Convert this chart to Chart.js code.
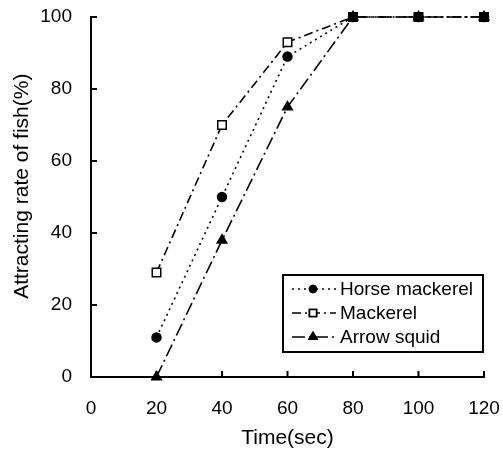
<!DOCTYPE html>
<html>
<head>
<meta charset="utf-8">
<script src="https://cdn.jsdelivr.net/npm/chart.js@4/dist/chart.umd.min.js"></script>
<style>
  html, body { margin: 0; padding: 0; background: #fff; }
  #wrap { width: 503px; height: 451px; }
</style>
</head>
<body>
<div id="wrap"><canvas id="myChart"></canvas></div>
<script>
// data
const times = [20, 40, 60, 80, 100, 120];
const horseMackerel = [11, 50, 89, 100, 100, 100];
const mackerel = [29, 70, 93, 100, 100, 100];
const arrowSquid = [0, 38, 75, 100, 100, 100];
const xTicks = [0, 20, 40, 60, 80, 100, 120];
const yTicks = [0, 20, 40, 60, 80, 100];
const yTitle = 'Attracting rate of fish(%)';

const FONT = 'Arial, "Liberation Sans", sans-serif';

const toPoints = (vals) => times.map((t, i) => ({ x: t, y: vals[i] }));

const datasets = [
  {
    label: 'Horse mackerel',
    data: toPoints(horseMackerel),
    borderDash: [2, 4],
    pointStyle: 'circle',
    pointRadius: 4.5,
    pointBackgroundColor: '#000',
  },
  {
    label: 'Mackerel',
    data: toPoints(mackerel),
    borderDash: [9, 4, 2, 4],
    pointStyle: 'rect',
    pointRadius: 6,
    pointBackgroundColor: '#fff',
  },
  {
    label: 'Arrow squid',
    data: toPoints(arrowSquid),
    borderDash: [13, 4, 2, 4],
    pointStyle: 'triangle',
    pointRadius: 5.5,
    pointBackgroundColor: '#000',
  },
].map(d => Object.assign({
  borderColor: '#000',
  borderWidth: 1.6,
  pointBorderColor: '#000',
  pointBorderWidth: 1.5,
  fill: false,
  tension: 0,
  clip: false,
}, d));

// ticks pointing into the plot area + rotated y title
const innerTicks = {
  id: 'innerTicks',
  afterDraw(chart) {
    const { ctx, scales: { x, y } } = chart;
    ctx.save();
    ctx.strokeStyle = '#000';
    ctx.lineWidth = 2;
    xTicks.slice(1).forEach(v => {
      const px = x.getPixelForValue(v);
      ctx.beginPath();
      ctx.moveTo(px, y.bottom);
      ctx.lineTo(px, y.bottom - 6);
      ctx.stroke();
    });
    yTicks.slice(1).forEach(v => {
      const py = y.getPixelForValue(v);
      ctx.beginPath();
      ctx.moveTo(x.left, py);
      ctx.lineTo(x.left + 6, py);
      ctx.stroke();
    });
    // y title sits a bit above the plot's centre in the original
    ctx.translate(22, y.getPixelForValue(53));
    ctx.rotate(-Math.PI / 2);
    ctx.fillStyle = '#000';
    ctx.font = '21px ' + FONT;
    ctx.textAlign = 'center';
    ctx.textBaseline = 'middle';
    ctx.fillText(yTitle, 0, 0);
    ctx.restore();
  }
};

// boxed legend inside the plot, lower right
const boxLegend = {
  id: 'boxLegend',
  afterDraw(chart) {
    const { ctx } = chart;
    const left = 283, top = 275, w = 200, h = 77, rowH = 24;
    ctx.save();
    ctx.fillStyle = '#fff';
    ctx.fillRect(left, top, w, h);
    ctx.strokeStyle = '#000';
    ctx.lineWidth = 2;
    ctx.strokeRect(left, top, w, h);
    ctx.font = '19px ' + FONT;
    ctx.textBaseline = 'middle';
    chart.data.datasets.forEach((ds, i) => {
      const cy = top + 14 + i * rowH;
      ctx.setLineDash(ds.borderDash);
      ctx.lineWidth = ds.borderWidth;
      ctx.beginPath();
      ctx.moveTo(left + 9, cy);
      ctx.lineTo(left + 53, cy);
      ctx.stroke();
      ctx.setLineDash([]);
      Chart.helpers.drawPoint(ctx, {
        pointStyle: ds.pointStyle,
        radius: ds.pointRadius - 1,
        borderWidth: ds.pointBorderWidth,
        rotation: 0,
      }, left + 30, cy);
      ctx.fillStyle = ds.pointBackgroundColor;
      ctx.fill();
      ctx.stroke();
      ctx.fillStyle = '#000';
      ctx.fillText(ds.label, left + 57, cy + 1);
    });
    ctx.restore();
  }
};

new Chart(document.getElementById('myChart'), {
  type: 'line',
  data: { datasets },
  plugins: [innerTicks, boxLegend],
  options: {
    responsive: true,
    maintainAspectRatio: false,
    animation: false,
    layout: { padding: { top: 17, right: 19, left: 0, bottom: 0 } },
    plugins: { legend: { display: false }, tooltip: { enabled: false } },
    scales: {
      x: {
        type: 'linear',
        min: 0, max: 120,
        afterBuildTicks: s => { s.ticks = xTicks.map(v => ({ value: v })); },
        afterFit: s => { s.height = 74; s.paddingLeft = 0; s.paddingRight = 0; },
        grid: { display: true, drawOnChartArea: false, drawTicks: false },
        border: { display: true, color: '#000', width: 2 },
        ticks: { color: '#000', padding: 20, maxRotation: 0, font: { family: FONT, size: 19 } },
        title: { display: true, text: 'Time(sec)', color: '#000', padding: { top: 2, bottom: 0 }, font: { family: FONT, size: 21 } },
      },
      y: {
        type: 'linear',
        min: 0, max: 100,
        afterBuildTicks: s => { s.ticks = yTicks.map(v => ({ value: v })); },
        afterFit: s => { s.width = 91; s.paddingTop = 0; s.paddingBottom = 0; },
        grid: { display: true, drawOnChartArea: false, drawTicks: false },
        border: { display: true, color: '#000', width: 2 },
        ticks: { color: '#000', padding: 19, font: { family: FONT, size: 19 } },
      },
    },
  },
});
</script>
</body>
</html>
